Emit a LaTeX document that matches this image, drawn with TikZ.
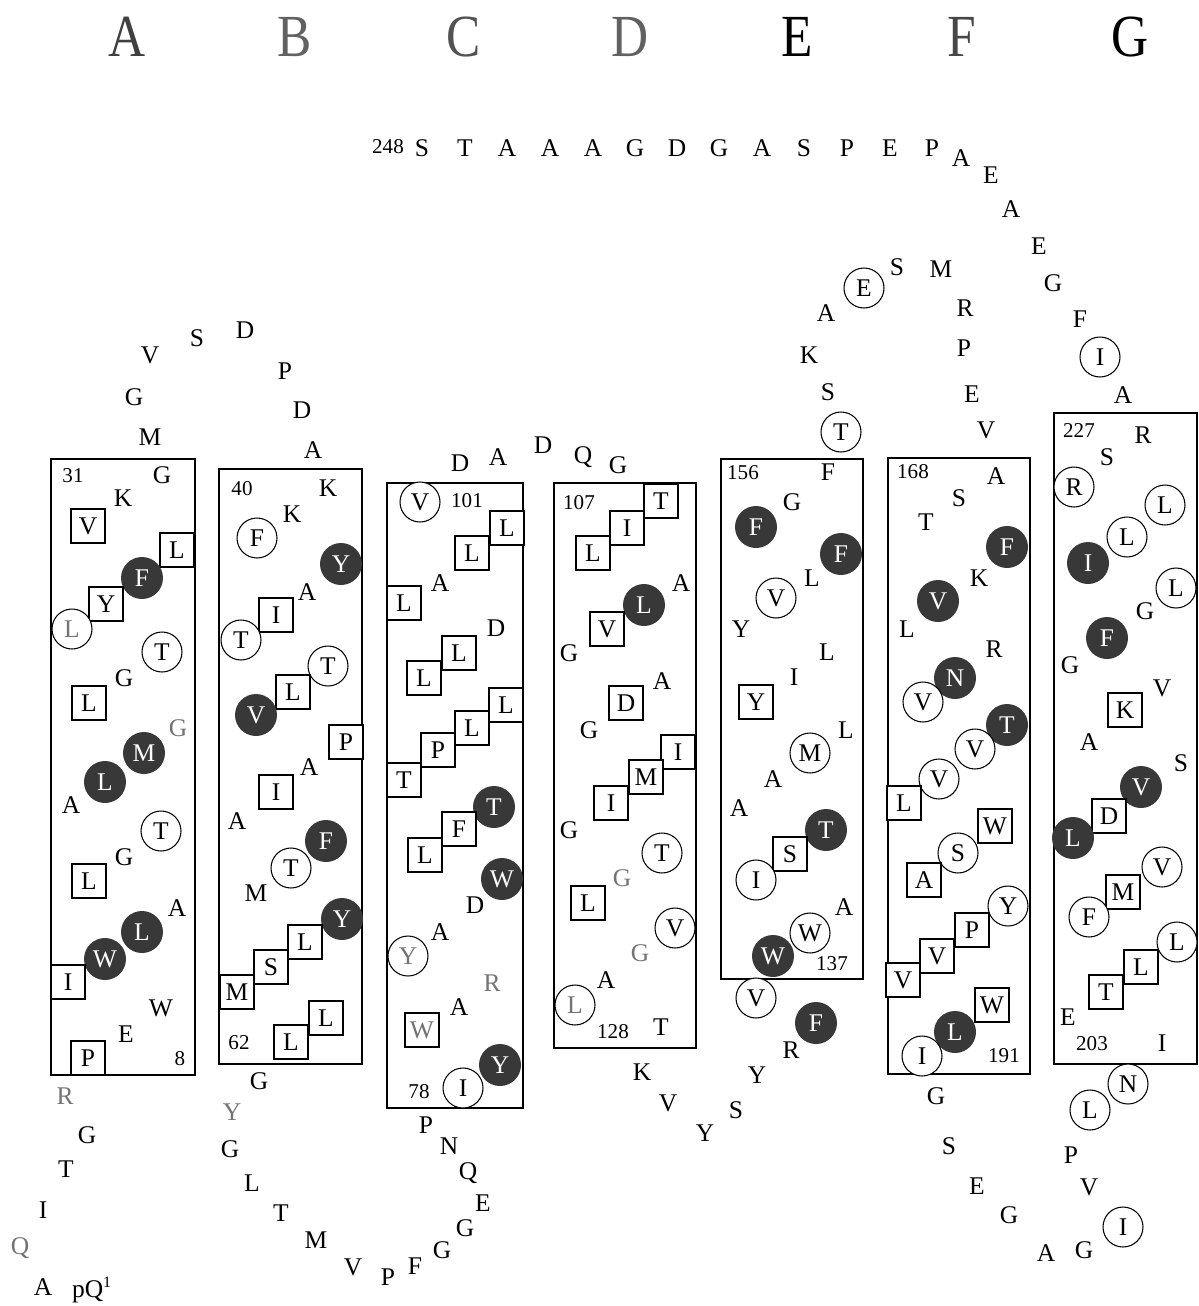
\documentclass[tikz,border=0pt]{standalone}
\usepackage{fontspec}
\usepackage{graphicx}
\setmainfont{Liberation Serif}

\newcommand{\helixname}[1]{\scalebox{0.86}[1]{#1}}

\tikzset{
  aa/.style={font=\fontsize{14.5}{16}\selectfont, inner sep=0pt},
  aag/.style={aa, text=black!55},
  sq/.style={aa, draw, fill=white, line width=0.6pt, minimum size=0.68cm},
  sqg/.style={sq, text=black!55},
  cir/.style={aa, circle, draw, fill=white, line width=0.6pt, minimum size=0.8cm},
  cirg/.style={cir, text=black!55},
  fil/.style={aa, circle, fill=black!78, text=white, minimum size=0.84cm},
  num/.style={font=\fontsize{12}{14}\selectfont, inner sep=0pt},
  helix/.style={font=\fontsize{34}{36}\selectfont, inner sep=0pt},
  tmbox/.style={line width=0.8pt}
}

\begin{document}
\begin{tikzpicture}[x=0.02cm, y=-0.02cm]
  \useasboundingbox (0,0) rectangle (1198,1306);

  % helix letters
  \node[helix, text=black!75] (hA) at (127,37) {\helixname{A}};
  \node[helix, text=black!62] (hB) at (295,37) {\helixname{B}};
  \node[helix, text=black!68] (hC) at (464,37) {\helixname{C}};
  \node[helix, text=black!62] (hD) at (630,37) {\helixname{D}};
  \node[helix] (hE) at (797,37) {\helixname{E}};
  \node[helix, text=black!72] (hF) at (962,37) {\helixname{F}};
  \node[helix] (hG) at (1130,37) {\helixname{G}};

  % membrane segments
  \draw[tmbox] (51,459) rectangle (195,1075);
  \draw[tmbox] (219,469) rectangle (362,1064);
  \draw[tmbox] (387,483) rectangle (523,1108);
  \draw[tmbox] (554,483) rectangle (696,1048);
  \draw[tmbox] (721,459) rectangle (863,979);
  \draw[tmbox] (888,458) rectangle (1030,1074);
  \draw[tmbox] (1054,413) rectangle (1197,1064);

  % N terminus
  \node[aa] (nt0) at (92,1290) {pQ\textsuperscript{\fontsize{9}{10}\selectfont 1}};
  \foreach \s/\t/\x/\y [count=\i] in {aa/A/43/1287, aag/Q/20/1248, aa/I/43/1210,
      aa/T/66/1169, aa/G/87/1135, aag/R/65/1096}
    \node[\s] (nt\i) at (\x,\y) {\t};

  % segment A
  \foreach \s/\t/\x/\y [count=\i] in {aa/G/162/475, aa/K/123/498, sq/V/88/526,
      sq/L/177/550, fil/F/142/578, sq/Y/106/604, cirg/L/72/629, cir/T/162/652,
      aa/G/124/678, sq/L/89/703, aag/G/178/728, fil/M/144/753, fil/L/105/782,
      aa/A/71/805, cir/T/161/831, aa/G/124/857, sq/L/89/881, aa/A/177/908,
      fil/L/142/932, fil/W/105/959, sq/I/68/982, aa/W/161/1008, aa/E/126/1034,
      sq/P/88/1058}
    \node[\s] (tmA\i) at (\x,\y) {\t};

  % loop A-B
  \foreach \s/\t/\x/\y [count=\i] in {aa/M/150/437, aa/G/134/397, aa/V/150/355,
      aa/S/197/338, aa/D/245/330, aa/P/285/371, aa/D/302/410, aa/A/313/450}
    \node[\s] (lAB\i) at (\x,\y) {\t};

  % segment B
  \foreach \s/\t/\x/\y [count=\i] in {aa/K/328/488, aa/K/292/514, cir/F/257/538,
      fil/Y/341/564, aa/A/307/592, sq/I/276/615, cir/T/241/640, cir/T/328/666,
      sq/L/293/692, fil/V/256/715, sq/P/346/742, aa/A/309/767, sq/I/276/792,
      aa/A/237/821, fil/F/326/841, cir/T/291/868, aa/M/256/893, fil/Y/342/919,
      sq/L/305/942, sq/S/271/967, sq/M/237/992, sq/L/326/1018, sq/L/291/1042}
    \node[\s] (tmB\i) at (\x,\y) {\t};

  % loop B-C
  \foreach \s/\t/\x/\y [count=\i] in {aa/G/259/1081, aag/Y/232/1112, aa/G/230/1149,
      aa/L/252/1183, aa/T/281/1213, aa/M/316/1240, aa/V/353/1267, aa/P/388/1277,
      aa/F/415/1266, aa/G/442/1250, aa/G/465/1228, aa/E/483/1203, aa/Q/468/1173,
      aa/N/449/1146, aa/P/426/1125}
    \node[\s] (lBC\i) at (\x,\y) {\t};

  % segment C
  \foreach \s/\t/\x/\y [count=\i] in {cir/V/420/502, sq/L/507/528, sq/L/472/553,
      aa/A/440/583, sq/L/404/603, aa/D/496/628, sq/L/459/653, sq/L/424/678,
      sq/L/506/705, sq/L/472/728, sq/P/438/750, sq/T/404/780, fil/T/494/807,
      sq/F/459/829, sq/L/425/855, fil/W/502/879, aa/D/475/905, aa/A/440/932,
      cirg/Y/408/956, aag/R/492/983, aa/A/459/1007, sqg/W/422/1030,
      fil/Y/500/1065, cir/I/463/1088}
    \node[\s] (tmC\i) at (\x,\y) {\t};

  % loop C-D
  \foreach \s/\t/\x/\y [count=\i] in {aa/D/460/463, aa/A/498/457, aa/D/543/445,
      aa/Q/583/457, aa/G/618/465}
    \node[\s] (lCD\i) at (\x,\y) {\t};

  % segment D
  \foreach \s/\t/\x/\y [count=\i] in {sq/T/661/501, sq/I/627/528, sq/L/593/553,
      aa/A/681/583, fil/L/644/605, sq/V/607/629, aa/G/569/653, aa/A/662/681,
      sq/D/626/703, aa/G/589/730, sq/I/678/752, sq/M/646/777, sq/I/611/803,
      aa/G/569/830, cir/T/662/853, aag/G/622/878, sq/L/588/903, cir/V/675/928,
      aag/G/640/953, aa/A/606/980, cirg/L/575/1005, aa/T/661/1027}
    \node[\s] (tmD\i) at (\x,\y) {\t};

  % loop D-E
  \foreach \s/\t/\x/\y [count=\i] in {aa/K/642/1072, aa/V/668/1103, aa/Y/705/1133,
      aa/S/736/1110, aa/Y/757/1075, aa/R/791/1050, fil/F/816/1023, cir/V/756/998}
    \node[\s] (lDE\i) at (\x,\y) {\t};

  % segment E
  \foreach \s/\t/\x/\y [count=\i] in {aa/F/828/472, aa/G/792/502, fil/F/756/527,
      fil/F/841/554, aa/L/812/578, cir/V/776/598, aa/Y/741/629, aa/L/827/652,
      aa/I/794/677, sq/Y/756/702, aa/L/846/730, cir/M/810/753, aa/A/773/779,
      aa/A/739/808, fil/T/826/830, sq/S/790/854, cir/I/756/880, aa/A/844/907,
      cir/W/810/933, fil/W/773/956}
    \node[\s] (tmE\i) at (\x,\y) {\t};

  % loop E-F
  \foreach \s/\t/\x/\y [count=\i] in {cir/T/841/432, aa/S/828/392, aa/K/809/355,
      aa/A/826/313, cir/E/864/288, aa/S/897/267, aa/M/941/269, aa/R/965/308,
      aa/P/964/348, aa/E/972/394, aa/V/986/430}
    \node[\s] (lEF\i) at (\x,\y) {\t};

  % segment F
  \foreach \s/\t/\x/\y [count=\i] in {aa/A/996/476, aa/S/959/498, aa/T/926/522,
      fil/F/1007/547, aa/K/979/578, fil/V/938/601, aa/L/907/629, aa/R/994/649,
      fil/N/955/678, cir/V/923/702, fil/T/1007/725, cir/V/975/749, cir/V/939/779,
      sq/L/904/803, sq/W/995/826, cir/S/958/853, sq/A/924/880, cir/Y/1008/906,
      sq/P/972/930, sq/V/937/956, sq/V/903/980, sq/W/992/1005, fil/L/955/1032,
      cir/I/922/1056}
    \node[\s] (tmF\i) at (\x,\y) {\t};

  % loop F-G
  \foreach \s/\t/\x/\y [count=\i] in {aa/G/936/1096, aa/S/949/1146, aa/E/977/1186,
      aa/G/1009/1215, aa/A/1046/1253, aa/G/1084/1250, cir/I/1123/1227,
      aa/V/1089/1187, aa/P/1071/1155, cir/L/1090/1110, cir/N/1128/1084}
    \node[\s] (lFG\i) at (\x,\y) {\t};

  % segment G
  \foreach \s/\t/\x/\y [count=\i] in {aa/R/1143/435, aa/S/1107/457, cir/R/1074/487,
      cir/L/1165/505, cir/L/1127/537, fil/I/1088/563, cir/L/1176/588,
      aa/G/1145/611, fil/F/1107/638, aa/G/1070/665, aa/V/1162/688, sq/K/1125/710,
      aa/A/1089/742, aa/S/1181/763, fil/V/1141/787, sq/D/1109/816, fil/L/1073/838,
      cir/V/1162/867, sq/M/1123/892, cir/F/1089/917, cir/L/1177/942,
      sq/L/1141/967, sq/T/1106/992, aa/E/1068/1017, aa/I/1162/1043}
    \node[\s] (tmG\i) at (\x,\y) {\t};

  % C terminus
  \foreach \s/\t/\x/\y [count=\i] in {aa/A/1123/395, cir/I/1100/357, aa/F/1080/319,
      aa/G/1053/283, aa/E/1039/246, aa/A/1011/209, aa/E/991/175, aa/A/961/158,
      aa/P/932/148, aa/E/890/148, aa/P/847/148, aa/S/804/148, aa/A/762/148,
      aa/G/719/148, aa/D/677/148, aa/G/635/148, aa/A/593/148, aa/A/550/148,
      aa/A/507/148, aa/T/465/148, aa/S/422/148}
    \node[\s] (ct\i) at (\x,\y) {\t};

  % residue numbers
  \foreach \t/\x/\y [count=\i] in {31/73/476, 8/180/1059, 40/242/489, 62/239/1043,
      101/467/501, 78/419/1092, 107/579/503, 128/613/1032, 156/743/473,
      137/832/964, 168/913/472, 191/1004/1056, 227/1079/431, 203/1092/1044,
      248/388/147}
    \node[num] (n\i) at (\x,\y) {\t};
\end{tikzpicture}
\end{document}
